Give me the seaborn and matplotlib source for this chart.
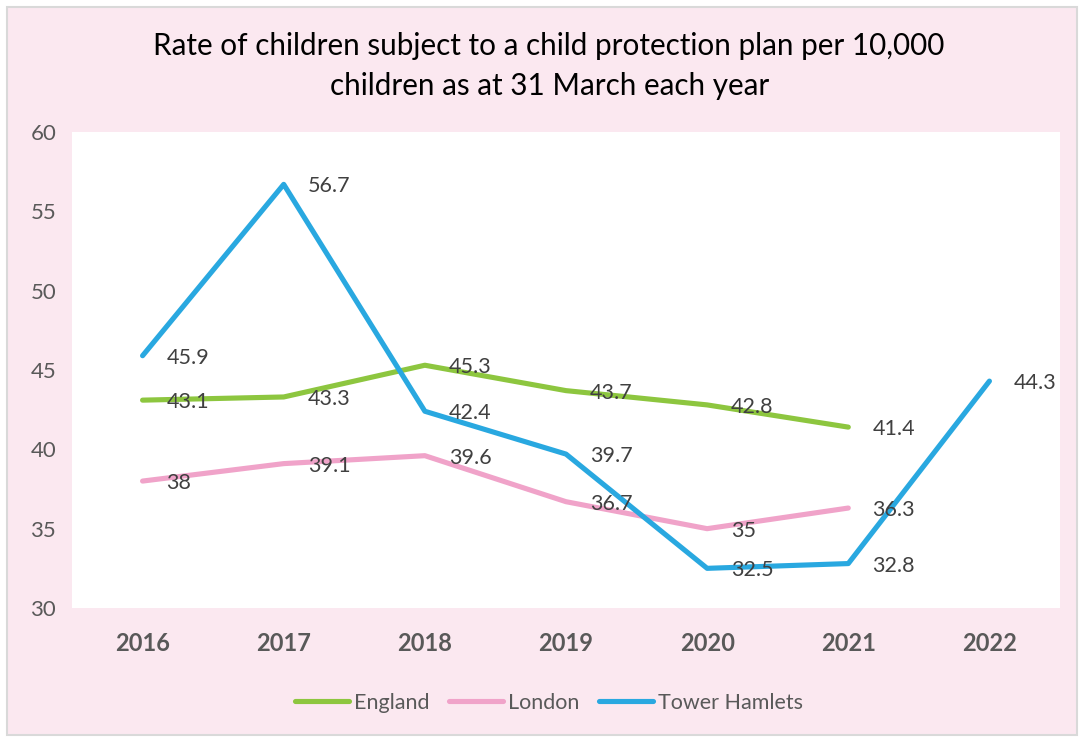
import pandas as pd
import matplotlib.pyplot as plt
import seaborn as sns
from matplotlib.patches import Rectangle

years = [2016, 2017, 2018, 2019, 2020, 2021, 2022]
england = [43.1, 43.3, 45.3, 43.7, 42.8, 41.4, None]
london = [38, 39.1, 39.6, 36.7, 35, 36.3, None]
tower_hamlets = [45.9, 56.7, 42.4, 39.7, 32.5, 32.8, 44.3]
series_names = ["England", "London", "Tower Hamlets"]
colors = ["#8DC63F", "#F0A3C9", "#29A8E0"]
title = "Rate of children subject to a child protection plan per 10,000\nchildren as at 31 March each year"

sns.set_style("white")
plt.rcParams['font.family'] = ['Lato', 'DejaVu Sans']

df = pd.DataFrame({"Year": years * 3,
                   "Rate": england + london + tower_hamlets,
                   "Area": sum([[n] * len(years) for n in series_names], [])})
df = df.dropna()

fig = plt.figure(figsize=(10.81, 7.38), dpi=100)
fig.patch.set_facecolor("white")
# pink chart area with thin gray border
fig.patches.append(Rectangle((7 / 1081, 3 / 738), 1070 / 1081, 728 / 738, transform=fig.transFigure,
                             facecolor="#FBE8F0", edgecolor="#D9D9D9", linewidth=1.5, zorder=-5))

ax = fig.add_axes([72 / 1081, 1 - 608 / 738, 988 / 1081, 476 / 738])
ax.set_zorder(2)
ax.set_facecolor("white")
sns.lineplot(data=df, x="Year", y="Rate", hue="Area", palette=colors, linewidth=3.7,
             ax=ax, legend=False, solid_capstyle="round")

for name, vals in zip(series_names, [england, london, tower_hamlets]):
    for yr, v in zip(years, vals):
        if v is None:
            continue
        ax.annotate(f"{v:g}", (yr, v), xytext=(24, -2), textcoords="offset pixels",
                    ha="left", va="center", fontsize=15.5, color="#404040")

ax.set_xlim(2015.5, 2022.5)
ax.set_ylim(30, 60)
ax.set_yticks(range(30, 61, 5))
ax.set_xticks(years)
ax.set_xticklabels([str(y) for y in years], fontweight="bold")
ax.tick_params(axis="x", labelsize=17, colors="#595959", length=0, pad=17)
ax.tick_params(axis="y", labelsize=16, colors="#595959", length=0, pad=30)
for lbl in ax.get_yticklabels():
    lbl.set_horizontalalignment("left")
ax.set_xlabel("")
ax.set_ylabel("")
for s in ax.spines.values():
    s.set_visible(False)

fig.text(0.508, 1 - 66 / 738, title, ha="center", va="center", fontsize=21.3, color="black", linespacing=1.5)

handles = [plt.Line2D([], [], color=c, linewidth=3.7, solid_capstyle="round") for c in colors]
fig.legend(handles, series_names, loc="center", bbox_to_anchor=(0.508, 1 - 703 / 738), ncol=3,
           frameon=False, fontsize=15.5, handlelength=2.5, handletextpad=0.25, columnspacing=0.9,
           labelcolor="#595959")

fig.savefig("out.png", dpi=100)
